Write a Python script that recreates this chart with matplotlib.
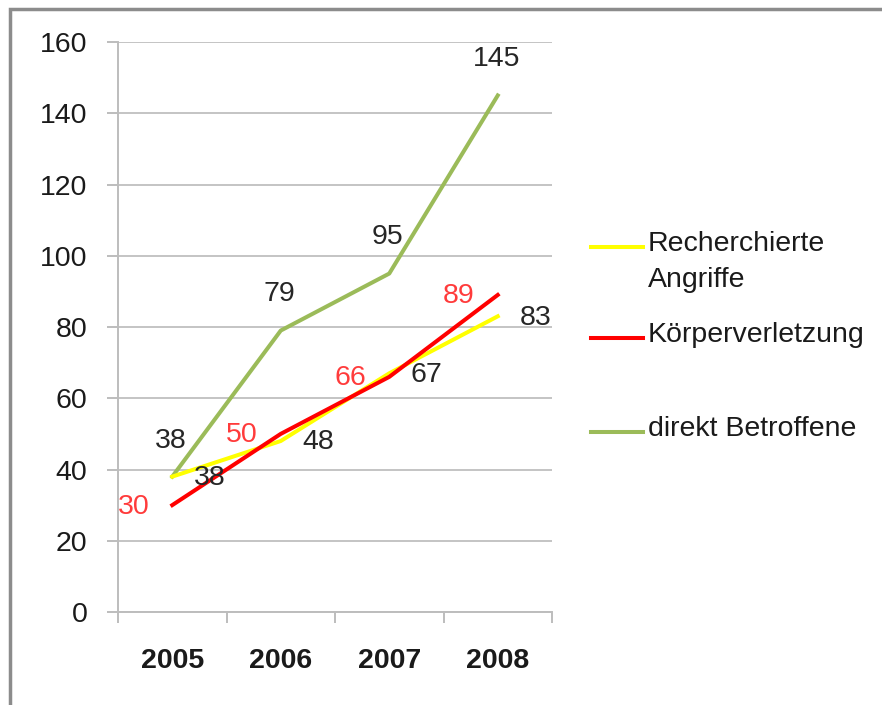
import matplotlib
matplotlib.use("Agg")
import matplotlib.pyplot as plt
from matplotlib.lines import Line2D
from matplotlib.patches import Rectangle

plt.rcParams['font.family'] = ['Liberation Sans', 'DejaVu Sans']

years = ["2005", "2006", "2007", "2008"]
angriffe = [38, 48, 67, 83]
koerper = [30, 50, 66, 89]
betroffene = [38, 79, 95, 145]

names = ["Recherchierte\nAngriffe", "Körperverletzung", "direkt Betroffene"]
colors = ["#FFFF00", "#FF0000", "#9BBB59"]
label_colors = ["#262626", "#FF3B3B", "#262626"]

fig = plt.figure(figsize=(8.82, 7.05), dpi=100)
ax = fig.add_axes([118 / 882, 1 - 612 / 705, 434 / 882, 570 / 705])

x = list(range(len(years)))
ax.set_xlim(-0.5, len(years) - 0.5)
ax.set_ylim(0, 160)
ax.set_yticks(range(0, 161, 20))
ax.yaxis.grid(True, color="#C4C4C4", lw=1.4)
ax.set_axisbelow(True)

ax.plot(x, betroffene, color=colors[2], lw=2.9, zorder=3)
ax.plot(x, angriffe, color=colors[0], lw=2.9, zorder=4)
ax.plot(x, koerper, color=colors[1], lw=2.9, zorder=5)

fs = 20.5
# value labels (Excel style: green above, yellow right, red left)
for xi, v in zip(x, betroffene):
    ax.annotate(str(v), (xi, v), xytext=(-1, 26), textcoords="offset points",
                ha="center", va="center", fontsize=fs, color=label_colors[2], zorder=6)
for xi, v in zip(x, angriffe):
    ax.annotate(str(v), (xi, v), xytext=(27, -1), textcoords="offset points",
                ha="center", va="center", fontsize=fs, color=label_colors[0], zorder=6)
for xi, v in zip(x, koerper):
    ax.annotate(str(v), (xi, v), xytext=(-28, -1), textcoords="offset points",
                ha="center", va="center", fontsize=fs, color=label_colors[1], zorder=6)

for s in ["top", "right"]:
    ax.spines[s].set_visible(False)
for s in ["left", "bottom"]:
    ax.spines[s].set_color("#BDBDBD")
    ax.spines[s].set_linewidth(1.4)

ax.set_xticks([i - 0.5 for i in range(len(years) + 1)], minor=False)
ax.set_xticklabels([])
ax.set_xticks(x, minor=True)
ax.set_xticklabels(years, minor=True, fontsize=fs, fontweight="bold", color="#1a1a1a")
ax.tick_params(axis="x", which="major", length=8, width=1.4, color="#BDBDBD", direction="out")
ax.tick_params(axis="x", which="minor", length=0, pad=26)
ax.tick_params(axis="y", length=8, width=1.4, color="#BDBDBD", pad=14,
               labelsize=fs, labelcolor="#1a1a1a")

# legend
leg_y = [247, 338, 432]
for name, c, yy in zip(names, colors, leg_y):
    fy = 1 - yy / 705
    fig.add_artist(Line2D([591 / 882, 643 / 882], [fy, fy], color=c, lw=2.9))
    fig.text(648 / 882, 1 - (yy - 16) / 705, name, fontsize=fs, color="#1a1a1a",
             ha="left", va="top", linespacing=1.5)

# frame
fig.add_artist(Rectangle((10 / 882, -0.05), 1.1, 1 - 9 / 705 + 0.05,
                         transform=fig.transFigure, fill=False,
                         edgecolor="#8C8C8C", lw=2.5))

fig.savefig("out.png", dpi=100)
